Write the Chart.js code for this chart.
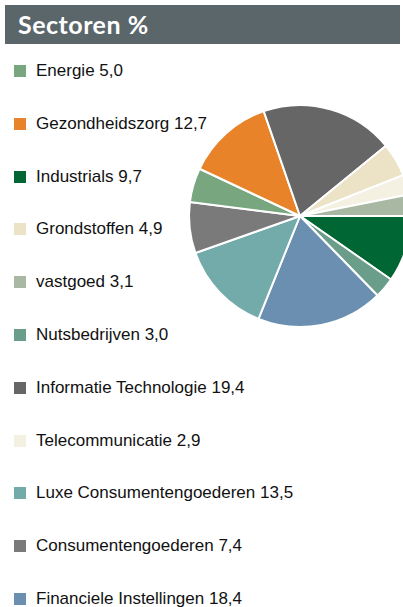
<!DOCTYPE html>
<html>
<head>
<meta charset="utf-8">
<script src="https://cdn.jsdelivr.net/npm/chart.js@4"></script>
<style>
  html, body { margin: 0; padding: 0; width: 403px; height: 607px; overflow: hidden; background: #fff; }
  #title {
    position: absolute; left: 5px; top: 5px; width: 395px; height: 39px;
    background: #5b666b; color: #fff;
    font-family: Lato, "DejaVu Sans", sans-serif; font-weight: bold; font-size: 25px;
    letter-spacing: 0.5px; line-height: 39px; padding-left: 13px; box-sizing: border-box;
  }
  #legend { position: absolute; left: 0; top: 0; }
  .item { position: absolute; left: 14px; height: 12px; white-space: nowrap;
    font-family: Arial, "Liberation Sans", sans-serif; font-size: 17px; color: #111; }
  .item span.box { position: absolute; left: 0; top: 0; width: 12px; height: 12px; }
  .item span.txt { position: absolute; left: 22px; top: -4px; line-height: 20px; }
  #wrap { position: absolute; left: 185px; top: 101px; width: 230px; height: 230px; }
</style>
</head>
<body>
<div id="title">Sectoren %</div>
<div id="legend"></div>
<div id="wrap"><canvas id="pie"></canvas></div>
<script>
// sectors in legend order
var sectors = ['Energie', 'Gezondheidszorg', 'Industrials', 'Grondstoffen', 'vastgoed', 'Nutsbedrijven',
  'Informatie Technologie', 'Telecommunicatie', 'Luxe Consumentengoederen', 'Consumentengoederen',
  'Financiele Instellingen'];
var weights = [5.0, 12.7, 9.7, 4.9, 3.1, 3.0, 19.4, 2.9, 13.5, 7.4, 18.4];
var colors = ['#78a67f', '#e8832a', '#006633', '#ece3c7', '#a9b8a3', '#6a9e8b',
  '#666666', '#f4f1e3', '#73abaa', '#7a7a7a', '#6b8fb1'];

// order of the slices in the pie, clockwise from 3 o'clock
var pieOrder = ['Industrials', 'Nutsbedrijven', 'Financiele Instellingen', 'Luxe Consumentengoederen',
  'Consumentengoederen', 'Energie', 'Gezondheidszorg', 'Informatie Technologie', 'Grondstoffen',
  'Telecommunicatie', 'vastgoed'];

// legend
var legend = document.getElementById('legend');
for (i = 0; i < sectors.length; i++) {
  var div = document.createElement('div');
  div.className = 'item';
  div.style.top = (65 + i * 52.8) + 'px';
  div.innerHTML = '<span class="box" style="background:' + colors[i] + '"></span>' +
    '<span class="txt">' + sectors[i] + ' ' + weights[i].toFixed(1).replace('.', ',') + '</span>';
  legend.appendChild(div);
}

var pieValues = [];
var pieColors = [];
for (i = 0; i < pieOrder.length; i++) {
  var k = sectors.indexOf(pieOrder[i]);
  pieValues.push(weights[k]);
  pieColors.push(colors[k]);
}

new Chart(document.getElementById('pie'), {
  type: 'pie',
  data: {
    labels: pieOrder,
    datasets: [{
      data: pieValues,
      backgroundColor: pieColors,
      borderColor: '#ffffff',
      borderWidth: 2
    }]
  },
  options: {
    responsive: true,
    maintainAspectRatio: false,
    animation: false,
    rotation: 90,
    layout: { padding: 3 },
    plugins: {
      legend: { display: false },
      tooltip: { enabled: false }
    }
  }
});
</script>
</body>
</html>
